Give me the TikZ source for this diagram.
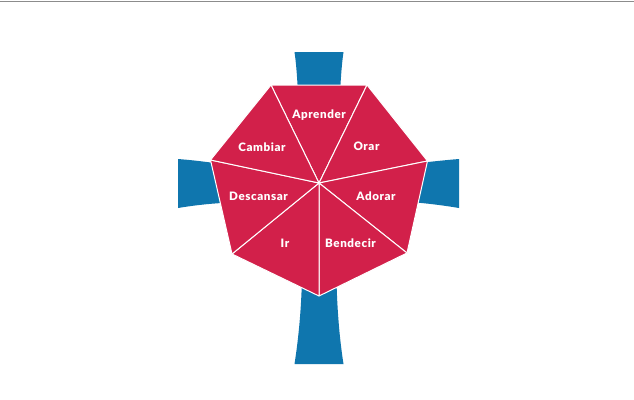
\documentclass[tikz,border=0pt]{standalone}
\usepackage{fontspec}
\setmainfont[BoldFont={Lato Black},BoldFeatures={LetterSpace=5}]{Lato}
\definecolor{crim}{HTML}{D2204A}
\definecolor{armblue}{HTML}{0F76AE}
\tikzset{
 x=1pt,y=-1pt,
 arm/.style={fill=armblue,draw=none},
 sector/.style={fill=crim,draw=white,line width=1pt,line join=round},
 lab/.style={text=white,font=\fontsize{11.6}{14}\selectfont\bfseries,inner sep=0pt,anchor=center}
}
\begin{document}
\begin{tikzpicture}
\useasboundingbox (0,0) rectangle (634,399);
\fill[white] (0,0) rectangle (634,399);
\coordinate (tl) at (0,1.7);
\coordinate (tr) at (634,1.7);
\draw[color=black!45,line width=1pt] (tl) -- (tr);
% arms
\fill[arm] (294.5,52) -- (343.5,52) .. controls (342,62) and (341,75) .. (340.3,88) -- (297.7,88) .. controls (297,75) and (296,62) .. (294.5,52) -- cycle;
\fill[arm] (178,159) .. controls (190,160) and (200,161) .. (214,163) -- (222,203) .. controls (205,204) and (190,206) .. (178,208) -- cycle;
\fill[arm] (459,159) .. controls (447,160) and (437,161) .. (424,162.5) -- (416,202.5) .. controls (433,204) and (447,206) .. (459,208) -- cycle;
\fill[arm] (301.8,285) -- (336.6,285) .. controls (337.5,315) and (340,342) .. (343.5,364) -- (294.5,364) .. controls (298,342) and (300.8,315) .. (301.8,285) -- cycle;
% hub
\coordinate (c) at (319,183);
\coordinate (p1) at (271,85);
\coordinate (p2) at (367,85);
\coordinate (p3) at (427.5,161);
\coordinate (p4) at (407,253);
\coordinate (p5) at (319,296);
\coordinate (p6) at (232,254);
\coordinate (p7) at (210.5,160);
\draw[sector] (c) -- (p1) -- (p2) -- cycle;
\draw[sector] (c) -- (p2) -- (p3) -- cycle;
\draw[sector] (c) -- (p3) -- (p4) -- cycle;
\draw[sector] (c) -- (p4) -- (p5) -- cycle;
\draw[sector] (c) -- (p5) -- (p6) -- cycle;
\draw[sector] (c) -- (p6) -- (p7) -- cycle;
\draw[sector] (c) -- (p7) -- (p1) -- cycle;
% labels
\node[lab] (n1) at (319,115.5) {Aprender};
\node[lab] (n2) at (366.5,146.5) {Orar};
\node[lab] (n3) at (376,196) {Adorar};
\node[lab] (n4) at (350.5,243) {Bendecir};
\node[lab] (n5) at (285,243) {Ir};
\node[lab] (n6) at (258.5,196.5) {Descansar};
\node[lab] (n7) at (262,147) {Cambiar};
\end{tikzpicture}
\end{document}
